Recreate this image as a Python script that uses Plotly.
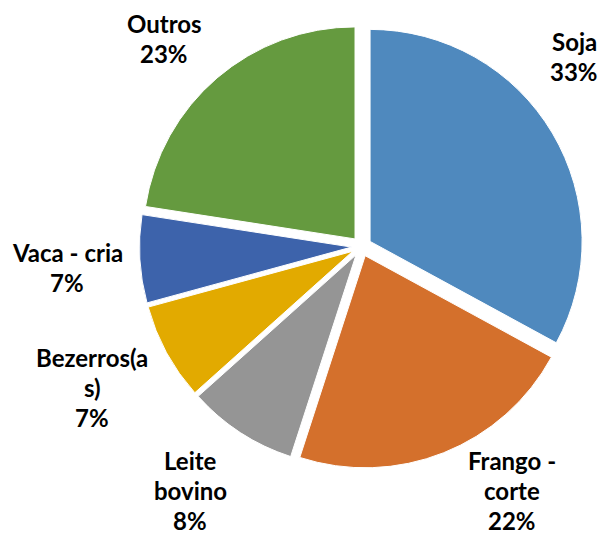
import plotly.graph_objects as go

# Data
categories = ["Soja", "Frango - corte", "Leite bovino", "Bezerros(as)", "Vaca - cria", "Outros"]
values = [33.0, 22.1, 8.4, 7.4, 6.7, 22.6]
label_lines = [
    ["Soja"],
    ["Frango -", "corte"],
    ["Leite", "bovino"],
    ["Bezerros(a", "s)"],
    ["Vaca - cria"],
    ["Outros"],
]
colors = ["#4F89BE", "#D4702C", "#959595", "#E2AA00", "#3D63AB", "#659A3F"]

# Label block centres (px from top-left) - layout only
label_pos = [(574, 56), (512, 490), (190, 490), (92, 387), (67, 267), (164, 39)]

W, H = 602, 535
LINE = 30

fig = go.Figure(go.Pie(
    labels=categories,
    values=values,
    sort=False,
    direction="clockwise",
    rotation=0,
    pull=[0.047] * len(values),
    marker=dict(colors=colors, line=dict(color="white", width=1)),
    textinfo="none",
    hoverinfo="label+percent",
    domain=dict(x=[0.2317, 0.9693], y=[0.1243, 0.9542]),
    showlegend=False,
))

total = sum(values)
annotations = []
for lines, v, (px, py) in zip(label_lines, values, label_pos):
    all_lines = lines + [f"{round(100 * v / total)}%"]
    n = len(all_lines)
    for i, t in enumerate(all_lines):
        yy = py + (i - (n - 1) / 2) * LINE
        annotations.append(dict(
            x=px / W, y=1 - yy / H, xref="paper", yref="paper",
            text=f"<b>{t}</b>", showarrow=False,
            xanchor="center", yanchor="middle",
            font=dict(family="Lato", size=24, color="black"),
        ))

fig.update_layout(
    width=W, height=H,
    margin=dict(l=0, r=0, t=0, b=0),
    paper_bgcolor="white",
    plot_bgcolor="white",
    annotations=annotations,
)

fig.write_html(
    "out.html",
    config={"displayModeBar": False},
    post_script="document.body.style.margin='0';document.body.style.overflow='hidden';",
)
